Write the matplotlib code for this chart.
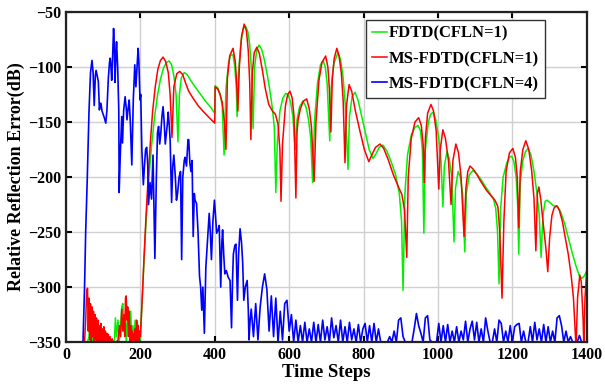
import numpy as np
import matplotlib.pyplot as plt

# FDTD (CFLN=1): time steps and reflection error (dB)
fdtd_t = [50, 58, 62, 64, 66, 70, 72, 76, 80, 130, 133, 136, 140, 143, 147, 150, 153, 156, 159,
          162, 165, 168, 171, 174, 177, 180, 183, 186, 189, 192, 195, 198, 200,
          205, 210, 216, 222, 230, 238, 246, 254, 262, 270, 277, 284, 290, 296, 301, 305, 310,
          318, 326, 335, 345, 360, 375, 390, 400, 401, 408, 414, 420, 425, 430, 437, 443, 449,
          454, 458, 460, 464, 470, 477, 483, 489, 494, 499, 503, 507, 513, 519, 526, 533, 541,
          548, 555, 560, 564, 568, 575, 583, 591, 597, 604, 610, 616, 621, 628, 637, 645, 652,
          658, 663, 668, 676, 684, 691, 697, 702, 709, 713, 720, 731, 738, 745, 751, 758, 762,
          769, 777, 785, 795, 805, 815, 825, 833, 842, 852, 862, 874, 886, 896, 902, 906, 911,
          918, 928, 938, 946, 953, 958, 962, 966, 974, 980, 987, 994, 1002, 1008, 1013, 1017,
          1024, 1030, 1037, 1043, 1047, 1054, 1060, 1066, 1072, 1076, 1084, 1094, 1104, 1115,
          1130, 1140, 1148, 1155, 1160, 1164, 1168, 1175, 1185, 1192, 1198, 1204, 1210, 1214,
          1217, 1221, 1228, 1235, 1242, 1250, 1258, 1266, 1272, 1277, 1282, 1288, 1293, 1300,
          1310, 1322, 1330, 1340, 1350, 1360, 1370, 1380, 1387, 1393, 1400]
fdtd_db = [-355, -350, -345, -335, -350, -340, -350, -342, -350, -350, -328, -345, -330, -350,
           -335, -318, -315, -340, -325, -350, -330, -320, -340, -322, -350, -335, -350, -330,
           -345, -332, -350, -348, -348,
           -312, -275, -236, -205, -172, -146, -126, -111, -101, -96, -94.5, -98, -108, -125,
           -168, -125, -110, -105, -107, -112, -117, -124, -131, -137, -142, -117, -119, -124,
           -135, -180, -120, -96, -89, -89, -100, -120, -145, -105, -78, -65, -63, -68, -80,
           -105, -156, -100, -84, -80, -84, -93, -107, -121, -138, -155, -214, -170, -140, -128,
           -124, -125, -132, -145, -175, -148, -136, -131, -136, -148, -165, -205, -150, -115,
           -98, -94, -100, -115, -167, -118, -97, -87, -93, -110, -135, -193, -145, -127, -123,
           -130, -145, -160, -175, -183, -179, -173, -171, -176, -186, -198, -215, -240, -303,
           -215, -180, -162, -155, -153, -158, -175, -251, -175, -150, -143, -141, -148, -165,
           -185, -227, -190, -177, -183, -200, -259, -210, -195, -200, -215, -268, -215, -198,
           -194, -197, -202, -210, -215, -219, -228, -250, -297, -230, -200, -187, -182, -181,
           -186, -200, -225, -270, -205, -185, -177, -174, -180, -195, -215, -235, -273, -235,
           -222, -221, -223, -226, -227, -232, -242, -255, -268, -280, -290, -292, -290, -285]

# MS-FDTD (CFLN=1)
ms1_t = [50, 53, 56, 58, 60, 62, 64, 66, 68, 70, 72, 74, 76, 78, 80, 82, 84, 86, 88, 90, 92, 94,
         96, 98, 100, 102, 104, 106, 108, 110, 112, 114, 116, 118, 120, 124, 128, 135, 140, 144,
         147, 150, 153, 156, 158, 160, 162, 164, 166, 168, 170, 172, 174, 176, 178, 180, 182,
         184, 186, 188, 190, 192, 194, 196, 198, 200,
         205, 210, 215, 221, 227, 233, 240, 247, 254, 261, 268, 275, 280, 285, 290, 298, 306,
         314, 322, 330, 341, 355, 368, 385, 400, 401, 408, 414, 420, 426, 430, 434, 440, 449,
         455, 459, 462, 466, 472, 479, 485, 490, 494, 497, 501, 506, 513, 520, 528, 536, 545,
         555, 563, 570, 575, 578, 582, 590, 596, 602, 608, 613, 618, 621, 624, 630, 638, 647,
         654, 660, 667, 672, 680, 688, 698, 704, 708, 712, 716, 721, 728, 734, 740, 745, 750,
         754, 761, 768, 778, 790, 802, 814, 822, 832, 844, 854, 866, 880, 895, 903, 910, 916,
         920, 928, 938, 948, 955, 960, 963, 966, 972, 981, 988, 995, 1002, 1006, 1013, 1020,
         1028, 1035, 1040, 1048, 1055, 1062, 1070, 1075, 1080, 1086, 1095, 1105, 1115, 1130,
         1145, 1153, 1161, 1166, 1172, 1177, 1183, 1192, 1201, 1208, 1213, 1217, 1221, 1228,
         1236, 1244, 1252, 1258, 1263, 1267, 1271, 1276, 1282, 1290, 1295, 1300, 1306, 1312,
         1319, 1326, 1334, 1342, 1350, 1358, 1364, 1371, 1375, 1381, 1385, 1390, 1392, 1395, 1400]
ms1_db = [-350, -330, -303, -301, -340, -310, -348, -315, -350, -318, -345, -322, -350, -325,
          -348, -328, -350, -330, -350, -335, -350, -333, -350, -338, -350, -336, -350, -340,
          -350, -342, -350, -343, -350, -345, -350, -347, -350, -350, -348, -335, -345, -320,
          -340, -325, -345, -310, -308, -330, -318, -345, -322, -350, -335, -350, -340, -350,
          -342, -350, -338, -350, -330, -350, -335, -350, -340, -345,
          -310, -272, -237, -200, -168, -140, -118, -102, -94, -91, -95, -105, -125, -164,
          -118, -106, -104, -107, -115, -122, -128, -135, -140, -146, -151, -118, -120, -125,
          -132, -150, -175, -110, -90, -83, -95, -115, -140, -100, -72, -61, -67, -85, -115,
          -166, -105, -87, -82, -88, -103, -120, -134, -140, -143, -152, -175, -222, -170,
          -135, -125, -122, -128, -145, -219, -160, -148, -138, -131, -129, -138, -155, -204,
          -150, -112, -96, -90, -100, -120, -159, -110, -92, -83, -90, -105, -130, -187, -135,
          -116, -122, -140, -158, -175, -186, -180, -173, -170, -174, -184, -198, -210, -216,
          -230, -273, -200, -165, -150, -146, -153, -170, -205, -165, -142, -134, -140, -158,
          -211, -175, -157, -165, -185, -225, -185, -170, -178, -200, -254, -210, -195, -190,
          -193, -198, -204, -212, -218, -221, -227, -250, -310, -240, -195, -178, -174, -182,
          -200, -246, -195, -175, -167, -175, -195, -220, -267, -215, -209, -220, -240, -265,
          -286, -255, -235, -228, -226, -230, -240, -255, -270, -290, -310, -355, -310, -289,
          -295, -330, -355, -310, -283]

# MS-FDTD (CFLN=4), early part
ms4_t = [45, 50, 53, 57, 62, 66, 70, 73, 76, 79, 81, 84, 87, 90, 92, 94, 97, 99, 103, 107, 110,
         114, 117, 119, 121, 123, 125, 128, 130, 132, 134, 136, 139, 142, 143, 146, 150, 152,
         155, 159, 162, 164, 167, 170, 173, 177, 181, 185, 188, 191, 194, 196, 199, 201, 204,
         208, 211, 214, 217, 220, 222, 226, 230, 234, 239, 243, 246, 249, 252, 255, 258, 261,
         264, 267, 270, 273, 275, 278, 280, 284, 287, 290, 294, 297, 300, 304, 308, 311, 314,
         318, 320, 324, 328, 330, 333, 336, 339, 342, 345, 347, 351, 355, 359, 362, 365, 368,
         372, 376, 380, 385, 388, 391, 395, 399, 402, 405, 409, 412, 416, 419, 421, 424, 427,
         431, 436, 441, 445, 448, 450, 454, 457, 459, 461, 464, 468, 472, 475, 478, 482, 487,
         490, 492, 495]
ms4_db = [-360, -300, -250, -205, -140, -105, -94, -105, -135, -108, -103, -108, -113, -139,
          -133, -133, -140, -142, -146, -151, -140, -110, -96, -92, -100, -112, -95, -65, -80,
          -114, -90, -77, -100, -139, -214, -180, -145, -169, -140, -127, -137, -148, -138,
          -130, -150, -189, -130, -98, -118, -100, -83, -95, -130, -125, -175, -207, -190,
          -175, -173, -190, -225, -205, -220, -180, -274, -200, -160, -154, -170, -160, -145,
          -136, -150, -170, -160, -150, -141, -155, -166, -223, -190, -180, -200, -221, -215,
          -200, -195, -275, -200, -185, -182, -190, -166, -166, -187, -195, -185, -254, -215,
          -221, -224, -250, -290, -300, -321, -300, -342, -282, -260, -233, -250, -275, -240,
          -221, -235, -251, -248, -244, -300, -260, -248, -270, -288, -285, -291, -294, -337,
          -290, -270, -262, -261, -285, -312, -270, -247, -260, -278, -312, -300, -294, -320,
          -348, -330]

# MS-FDTD (CFLN=4), noisy tail sampled every 6 steps from 498
ms4_tail_start, ms4_tail_step = 498, 6
ms4_tail_db = [-320, -345, -315, -348, -318, -300, -288, -302, -340, -308,
               -345, -310, -350, -322, -348, -315, -312, -340, -325, -350,
               -330, -350, -335, -350, -332, -350, -338, -350, -332, -350,
               -334, -350, -330, -348, -336, -350, -328, -346, -335, -350,
               -330, -350, -336, -350, -332, -348, -338, -350, -334, -350,
               -338, -333, -350, -335, -350, -333, -350, -338, -350, -350,
               -350, -350, -345, -350, -340, -350, -330, -328, -345, -350,
               -350, -350, -350, -338, -324, -335, -342, -350, -328, -326,
               -348, -350, -350, -350, -333, -350, -335, -350, -334, -350,
               -340, -350, -336, -350, -340, -348, -331, -350, -338, -331,
               -348, -332, -350, -338, -350, -328, -340, -350, -350, -338,
               -350, -330, -333, -350, -340, -350, -335, -350, -336, -334,
               -333, -350, -340, -350, -350, -336, -350, -332, -348, -338,
               -350, -334, -350, -336, -350, -340, -350, -328, -326, -335,
               -350, -340, -350, -345, -350, -350, -350, -344, -350, -350,
               -350]

ms4_tail_t = ms4_tail_start + ms4_tail_step * np.arange(len(ms4_tail_db))
ms4_all_t = np.concatenate([ms4_t, ms4_tail_t])
ms4_all_db = np.concatenate([ms4_db, ms4_tail_db])

plt.rcParams['font.family'] = ['Liberation Serif', 'DejaVu Serif']
plt.rcParams['font.weight'] = 'bold'

fig = plt.figure(figsize=(6.05, 3.87), dpi=100)
ax = fig.add_axes([0.109, 0.116, 0.861, 0.853])

ax.plot(fdtd_t, fdtd_db, color='#00f000', lw=1.1, label='FDTD(CFLN=1)')
ax.plot(ms1_t, ms1_db, color='#ff0000', lw=1.1, label='MS-FDTD(CFLN=1)')
ax.plot(ms4_all_t, ms4_all_db, color='#0000ff', lw=1.2, label='MS-FDTD(CFLN=4)')

ax.set_xlim(0, 1400)
ax.set_ylim(-350, -50)
ax.set_xticks(np.arange(0, 1401, 200))
ax.set_yticks(np.arange(-350, -49, 50))
ax.grid(True, color='#d0d0d0', lw=1)
ax.set_axisbelow(True)
ax.tick_params(direction='in', top=True, right=True, labelsize=11.5, width=1.5, length=4)
for lbl in ax.get_xticklabels() + ax.get_yticklabels():
    lbl.set_fontweight('bold')
for s in ax.spines.values():
    s.set_linewidth(1.6)
    s.set_color('#222222')

ax.set_xlabel('Time Steps', fontsize=13.5, fontweight='bold', labelpad=1)
ax.set_ylabel('Relative Reflection Error(dB)', fontsize=13, fontweight='bold', labelpad=2)

leg = ax.legend(loc='upper right', bbox_to_anchor=(0.919, 0.976), borderaxespad=0,
                handlelength=0.9, handletextpad=0.1, borderpad=0.35, labelspacing=0.55,
                fancybox=False, framealpha=1, edgecolor='#333333',
                prop={'weight': 'bold', 'size': 12})
leg.get_frame().set_linewidth(1.0)

fig.savefig('out.png', dpi=100)
